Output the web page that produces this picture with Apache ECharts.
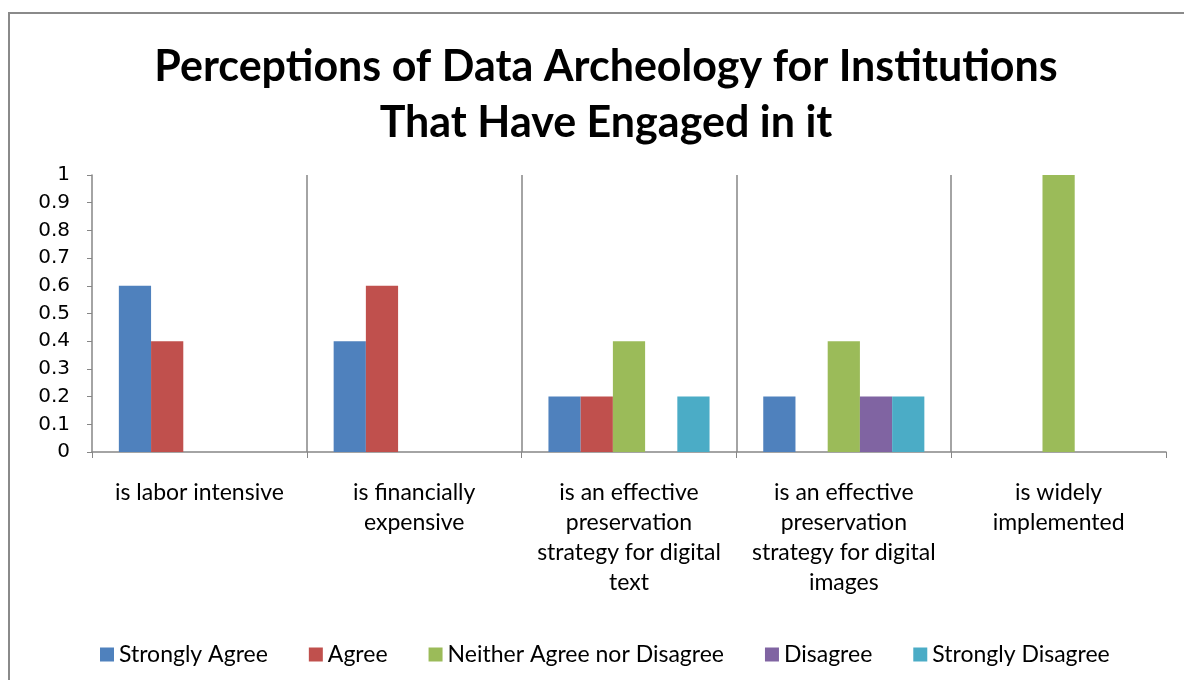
<!DOCTYPE html>
<html>
<head>
<meta charset="utf-8">
<script src="https://cdn.jsdelivr.net/npm/echarts@6/dist/echarts.min.js"></script>
<style>
html, body { margin: 0; padding: 0; background: #fff; }
#frame { position: absolute; left: 8px; top: 12px; width: 1200px; height: 700px; border: 2px solid #8a8a8a; box-sizing: border-box; }
#main { position: absolute; left: 0; top: 0; width: 1184px; height: 680px; }
</style>
</head>
<body>
<div id="frame"></div>
<div id="main"></div>
<script>
'use strict';

let categories = [
	'is labor intensive',
	'is financially\nexpensive',
	'is an effective\npreservation\nstrategy for digital\ntext',
	'is an effective\npreservation\nstrategy for digital\nimages',
	'is widely\nimplemented'
];
let seriesNames = ['Strongly Agree', 'Agree', 'Neither Agree nor Disagree', 'Disagree', 'Strongly Disagree'];
let stronglyAgree = [0.6, 0.4, 0.2, 0.2, 0];
let agree = [0.4, 0.6, 0.2, 0, 0];
let neither = [0, 0, 0.4, 0.4, 1];
let disagree = [0, 0, 0, 0.2, 0];
let stronglyDisagree = [0, 0, 0.2, 0.2, 0];
let colors = ['#4F81BD', '#C0504D', '#9BBB59', '#8064A2', '#4BACC6'];

let myChart = echarts.init(document.getElementById('main'));

let values = [stronglyAgree, agree, neither, disagree, stronglyDisagree];
let series = [];
for (let i = 0; i < seriesNames.length; i++) {
	series.push({
		name: seriesNames[i],
		type: 'bar',
		data: values[i],
		barGap: '0%',
		barCategoryGap: '25%',
		itemStyle: { color: colors[i] }
	});
}

let option = {
	animation: false,
	color: colors,
	title: {
		text: 'Perceptions of Data Archeology for Institutions\nThat Have Engaged in it',
		left: 601,
		top: 34,
		textStyle: {
			fontFamily: 'Lato',
			fontWeight: 'bold',
			fontSize: 43,
			lineHeight: 56,
			color: '#000'
		},
		textAlign: 'center'
	},
	legend: {
		data: seriesNames,
		top: 638,
		left: 95,
		icon: 'rect',
		itemWidth: 14,
		itemHeight: 14,
		itemGap: 41,
		textStyle: { fontFamily: 'Lato', fontSize: 23, color: '#000' }
	},
	grid: {
		left: 92,
		right: 18,
		top: 175,
		bottom: 228
	},
	xAxis: {
		type: 'category',
		data: categories,
		axisLine: { lineStyle: { color: '#868686', width: 1.5 } },
		axisTick: { show: true, interval: 0, length: 6, lineStyle: { color: '#868686' } },
		splitLine: { show: true, interval: 0, showMinLine: false, showMaxLine: false, lineStyle: { color: '#868686', width: 1.5 } },
		axisLabel: { interval: 0, fontFamily: 'Lato', fontSize: 23, color: '#000', lineHeight: 30, margin: 26 }
	},
	yAxis: {
		type: 'value',
		min: 0,
		max: 1,
		interval: 0.1,
		axisLine: { show: true, lineStyle: { color: '#868686', width: 1.5 } },
		axisTick: { show: true, length: 5, lineStyle: { color: '#868686' } },
		splitLine: { show: false },
		axisLabel: { fontFamily: 'DejaVu Sans', fontSize: 20, color: '#000', margin: 22 }
	},
	series: series
};
myChart.setOption(option);
</script>
</body>
</html>
